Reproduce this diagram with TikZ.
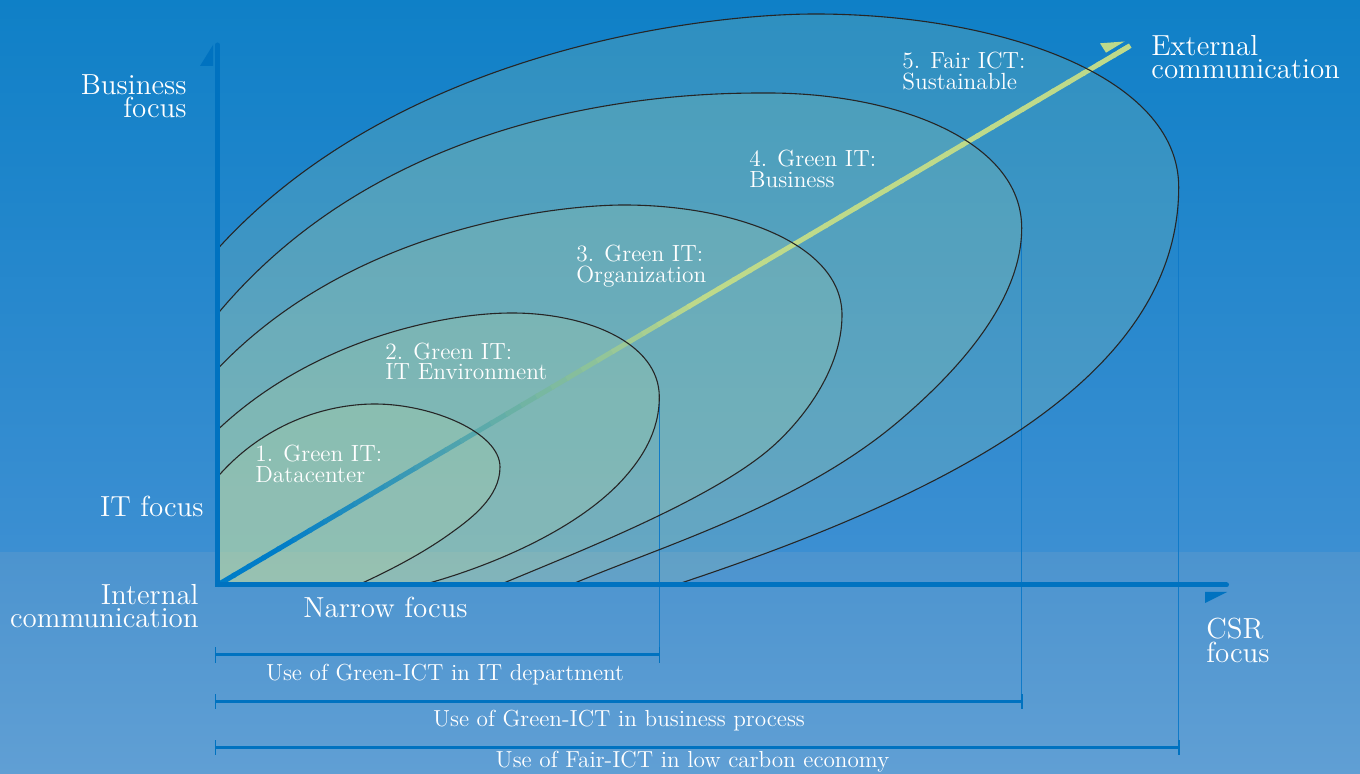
\documentclass[tikz,border=0pt]{standalone}
\usetikzlibrary{calc}
\definecolor{bgtop}{RGB}{15,128,199}
\definecolor{bgmid}{RGB}{60,143,210}
\definecolor{bandtop}{RGB}{76,148,207}
\definecolor{bandbot}{RGB}{96,159,212}
\definecolor{axisblue}{RGB}{0,114,192}
\definecolor{guideblue}{RGB}{16,122,200}
\definecolor{arrowgreen}{RGB}{190,218,138}
\definecolor{arrowblue}{RGB}{0,125,200}
\definecolor{ellfill}{RGB}{205,228,160}
\tikzset{
 ellipsearea/.style={fill=ellfill, fill opacity=0.16},
 ellipseline/.style={draw=black!85, line width=0.55pt},
 axisline/.style={draw=axisblue, line width=2.5pt, line cap=round, line join=miter},
 harpoon/.style={fill=axisblue},
 rangeline/.style={draw=axisblue, line width=1.5pt},
 rangetick/.style={draw=axisblue, line width=0.8pt},
 guideline/.style={draw=guideblue, line width=0.75pt},
 lbl/.style={text=white, inner sep=0pt, font=\fontsize{11.7}{10.3}\selectfont, align=left, anchor=north west},
 axlbl/.style={text=white, inner sep=0pt, font=\fontsize{14.5}{11.6}\selectfont},
 rangelbl/.style={text=white, inner sep=0pt, font=\fontsize{11.6}{10.3}\selectfont, anchor=base},
}
\begin{document}
\begin{tikzpicture}[x=0.5pt,y=-0.5pt]
\useasboundingbox (0,0) rectangle (1360,774);
% background
\shade[top color=bgtop, bottom color=bgmid] (0,0) rectangle (1360,553);
\shade[top color=bandtop, bottom color=bandbot] (0,553) rectangle (1360,774);

% named points
\coordinate (O) at (217.5,585);
\coordinate (ytop) at (217.5,45);
\coordinate (xend) at (1226.5,585);
\coordinate (ext) at (1128,47);
\coordinate (g2) at (659.3,397);
\coordinate (g4) at (1021.7,228);
\coordinate (g5) at (1178.7,187);
\coordinate (r1a) at (215.5,655);
\coordinate (r1b) at (659.3,655);
\coordinate (r2a) at (215.5,701.5);
\coordinate (r2b) at (1021.7,701.5);
\coordinate (r3a) at (215.5,747.5);
\coordinate (r3b) at (1178.7,747.5);

% ellipse fills
\begin{scope}
\clip (217.5,0) rectangle (1360,585);
\fill[ellipsearea] (217.5,249) .. controls (399,49) and (705,14) .. (815,14) .. controls (997,14) and (1178.7,75) .. (1178.7,187) .. controls (1178.7,377) and (950.5,494) .. (675,585) -- (200,600) -- cycle;
\fill[ellipsearea] (217.5,314) .. controls (403,91) and (708,93) .. (768,93) .. controls (895,93) and (1021.7,140) .. (1021.7,228) .. controls (1021.7,308) and (944.7,382) .. (899,421) .. controls (800,505) and (662,546) .. (570,585) -- (200,600) -- cycle;
\fill[ellipsearea] (217.5,369) .. controls (355.5,224) and (564,205) .. (624,205) .. controls (733,205) and (842,243.5) .. (842,315) .. controls (842,370) and (802,420.5) .. (772,447) .. controls (712,500) and (572.8,554) .. (499,585) -- (200,600) -- cycle;
\fill[ellipsearea] (217.5,430) .. controls (311.8,340.4) and (442,313) .. (512,313) .. controls (585.7,313) and (659.3,342.4) .. (659.3,397) .. controls (659.3,432) and (641.5,458.2) .. (625,477) .. controls (578.8,529.6) and (489.6,566.8) .. (422,585) -- (200,600) -- cycle;
\fill[ellipsearea] (217.5,477) .. controls (263.4,424.2) and (325,404) .. (375,404) .. controls (431.3,404) and (500,432.4) .. (500,467) .. controls (500,497) and (471.3,518.4) .. (451,533) .. controls (422.6,553.5) and (389.8,570.4) .. (358,585) -- (200,600) -- cycle;
\end{scope}

% guide lines
\draw[guideline] (g2) -- (r1b);
\draw[guideline] (g4) -- (r2b);
\draw[guideline] (g5) -- (r3b);

% diagonal arrow with gradient
\foreach \i in {0,...,59}{
  \pgfmathsetmacro\a{\i/60}
  \pgfmathsetmacro\b{(\i+1.15)/60}
  \pgfmathsetmacro\m{max(0,min(100,(\a-0.06)/0.46*100))}
  \draw[line width=2.5pt, color=arrowgreen!\m!arrowblue] ($(O)!\a!(ext)$) -- ($(O)!\b!(ext)$);
}
\draw[line width=2.5pt, arrowgreen, line cap=round] ($(O)!0.99!(ext)$) -- (ext);
\fill[arrowgreen] (1100,43.3) -- (1124.5,41.5) -- (1106,52.7) -- cycle;

% ellipse outlines
\begin{scope}
\clip (217.5,0) rectangle (1360,585);
\draw[ellipseline] (217.5,249) .. controls (399,49) and (705,14) .. (815,14) .. controls (997,14) and (1178.7,75) .. (1178.7,187) .. controls (1178.7,377) and (950.5,494) .. (675,585);
\draw[ellipseline] (217.5,314) .. controls (403,91) and (708,93) .. (768,93) .. controls (895,93) and (1021.7,140) .. (1021.7,228) .. controls (1021.7,308) and (944.7,382) .. (899,421) .. controls (800,505) and (662,546) .. (570,585);
\draw[ellipseline] (217.5,369) .. controls (355.5,224) and (564,205) .. (624,205) .. controls (733,205) and (842,243.5) .. (842,315) .. controls (842,370) and (802,420.5) .. (772,447) .. controls (712,500) and (572.8,554) .. (499,585);
\draw[ellipseline] (217.5,430) .. controls (311.8,340.4) and (442,313) .. (512,313) .. controls (585.7,313) and (659.3,342.4) .. (659.3,397) .. controls (659.3,432) and (641.5,458.2) .. (625,477) .. controls (578.8,529.6) and (489.6,566.8) .. (422,585);
\draw[ellipseline] (217.5,477) .. controls (263.4,424.2) and (325,404) .. (375,404) .. controls (431.3,404) and (500,432.4) .. (500,467) .. controls (500,497) and (471.3,518.4) .. (451,533) .. controls (422.6,553.5) and (389.8,570.4) .. (358,585);
\end{scope}

% axes
\draw[axisline] (ytop) -- (O) -- (xend);
\fill[harpoon] (200,66) -- (213,66) -- (213,45) -- cycle;
\fill[harpoon] (1205,592) -- (1227,592) -- (1205,603) -- cycle;

% range lines
\draw[rangeline] (r1a) -- (r1b);
\draw[rangeline] (r2a) -- (r2b);
\draw[rangeline] (r3a) -- (r3b);
\foreach \p in {r1a,r1b,r2a,r2b,r3a,r3b}{
  \draw[rangetick] ($(\p)+(0,-7.5)$) -- ($(\p)+(0,7.5)$);
}

% ellipse labels
\node[lbl] (l1) at (255,445) {1. Green IT:\\Datacenter};
\node[lbl] (l2) at (385,342.5) {2. Green IT:\\IT Environment};
\node[lbl] (l3) at (576,245) {3. Green IT:\\Organization};
\node[lbl] (l4) at (749,150) {4. Green IT:\\Business};
\node[lbl] (l5) at (902,52) {5. Fair ICT:\\Sustainable};

% axis labels
\node[axlbl, anchor=north east, align=right] (bf) at (187,74) {Business\\focus};
\node[axlbl, anchor=base east] (itf) at (204,516.5) {IT focus};
\node[axlbl, anchor=north east, align=right] (ic) at (199,584) {Internal\\communication};
\node[axlbl, anchor=base west] (nf) at (303,617.5) {Narrow focus};
\node[axlbl, anchor=north west, align=left] (csr) at (1206,618) {CSR\\focus};
\node[axlbl, anchor=north west, align=left] (ec) at (1151,35) {External\\communication};

% range labels
\node[rangelbl] (u1) at (445,680) {Use of Green-ICT in IT department};
\node[rangelbl] (u2) at (619,726.5) {Use of Green-ICT in business process};
\node[rangelbl] (u3) at (692.5,767) {Use of Fair-ICT in low carbon economy};
\end{tikzpicture}
\end{document}
